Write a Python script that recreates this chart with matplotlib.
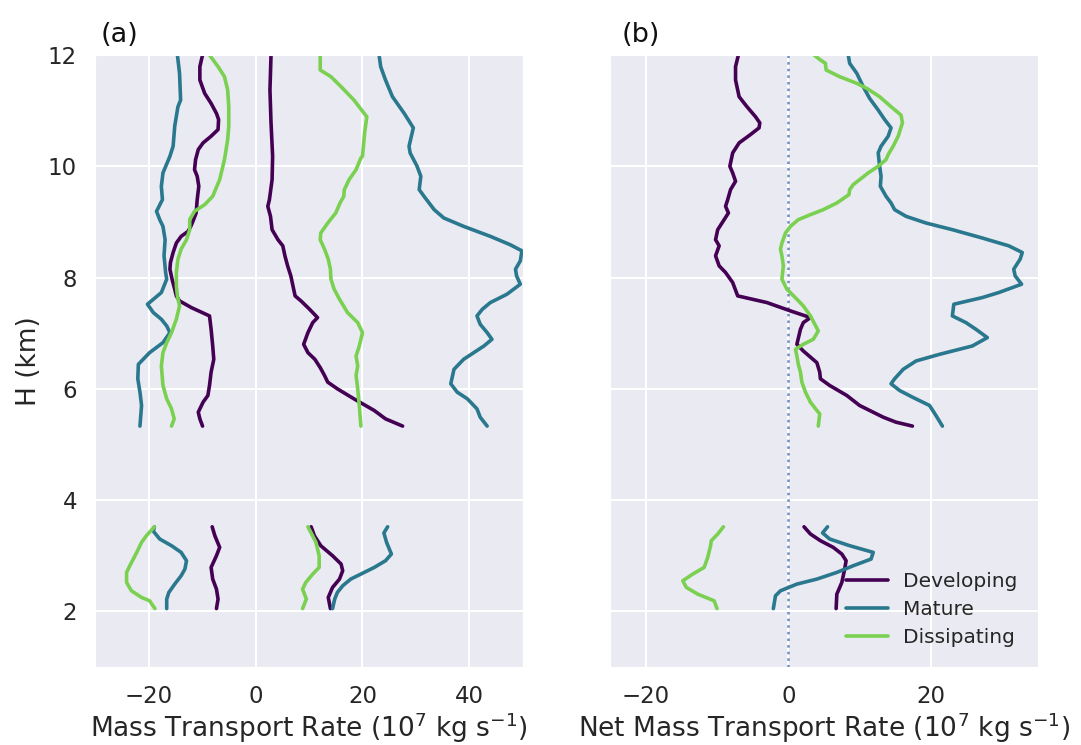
import numpy as np
import matplotlib
matplotlib.use('Agg')
import matplotlib.pyplot as plt
import seaborn as sns

nan = np.nan

# --------------------------
# Data: heights (km) and mass transport rates (1e7 kg/s)
# upper layer (5.3-12 km) and lower layer (2-3.5 km) split by nan
# --------------------------
# panel (a): downward (negative) and upward (positive) transport
mat_neg_h = [12.00, 11.67, 11.19, 11.07, 10.72, 10.36, 10.18, 9.88, 9.64, 9.40, 9.19, 9.04, 8.92, 8.68,
             8.39, 8.09, 7.97, 7.73, 7.52, 7.37, 7.25, 7.13, 7.01, 6.83, 6.65, 6.44, 6.18, 5.94, 5.70, 5.33,
             nan, 3.52, 3.44, 3.30, 3.18, 3.06, 2.91, 2.76, 2.64, 2.49, 2.34, 2.22, 2.05]
mat_neg = [-14.6, -14.2, -14.0, -14.5, -15.1, -15.4, -16.0, -17.3, -17.6, -17.4, -18.5, -17.9, -17.3, -16.9,
           -17.1, -16.8, -16.6, -17.6, -20.2, -19.1, -17.6, -16.6, -16.0, -17.3, -19.8, -21.9, -22.0, -21.6, -21.3, -21.6,
           nan, -18.9, -19.1, -17.9, -15.7, -13.9, -12.9, -13.2, -13.9, -15.1, -16.2, -16.6, -16.6]

dev_neg_h = [12.00, 11.79, 11.55, 11.31, 11.13, 10.95, 10.84, 10.66, 10.54, 10.42, 10.30, 10.12, 9.94, 9.82,
             9.64, 9.40, 9.16, 9.01, 8.92, 8.83, 8.74, 8.62, 8.45, 8.27, 8.15, 7.97, 7.79, 7.67, 7.58, 7.46,
             7.31, 7.07, 6.77, 6.53, 6.30, 6.06, 5.88, 5.76, 5.58, 5.46, 5.33,
             nan, 3.52, 3.36, 3.15, 3.00, 2.79, 2.58, 2.40, 2.22, 2.05]
dev_neg = [-9.9, -10.4, -10.4, -9.5, -8.3, -7.3, -6.9, -7.0, -8.3, -9.8, -10.7, -11.2, -11.4, -10.9,
           -10.6, -10.9, -11.1, -11.7, -12.1, -12.6, -13.9, -14.8, -15.4, -15.9, -16.0, -15.6, -15.1, -14.8, -14.2, -12.0,
           -8.6, -8.3, -8.0, -7.8, -8.3, -8.6, -8.9, -9.8, -10.7, -10.4, -9.9,
           nan, -8.1, -7.6, -6.7, -7.3, -8.3, -8.0, -7.3, -7.0, -7.3]

dis_neg_h = [12.00, 11.79, 11.61, 11.37, 11.07, 10.72, 10.48, 10.12, 9.76, 9.46, 9.31, 9.19, 9.04, 8.86,
             8.68, 8.51, 8.33, 8.09, 7.85, 7.67, 7.49, 7.25, 7.01, 6.83, 6.65, 6.41, 6.06, 5.82, 5.64, 5.46, 5.33,
             nan, 3.52, 3.36, 3.24, 3.06, 2.82, 2.70, 2.52, 2.37, 2.25, 2.19, 2.05]
dis_neg = [-8.6, -7.0, -5.8, -5.2, -5.0, -5.0, -5.2, -5.8, -6.7, -8.0, -9.5, -11.4, -12.3, -12.3,
           -12.9, -13.9, -14.5, -14.8, -14.8, -14.6, -14.2, -14.8, -15.7, -16.6, -17.3, -17.6, -17.3, -16.6, -15.7, -15.2, -15.7,
           nan, -18.9, -20.4, -21.3, -22.2, -23.5, -24.1, -24.1, -23.2, -21.3, -19.8, -18.8]

dev_pos_h = [12.00, 11.37, 10.78, 10.18, 9.76, 9.40, 9.28, 9.10, 8.86, 8.68, 8.57, 8.39, 8.21, 8.03,
             7.85, 7.67, 7.58, 7.43, 7.28, 7.19, 7.01, 6.80, 6.65, 6.53, 6.38, 6.24, 6.12, 6.00, 5.82, 5.61, 5.46, 5.33,
             nan, 3.52, 3.36, 3.18, 3.00, 2.85, 2.73, 2.58, 2.43, 2.25, 2.05]
dev_pos = [2.9, 2.7, 2.9, 3.2, 3.1, 2.6, 2.3, 2.8, 3.1, 4.2, 5.1, 5.5, 6.0, 6.6,
           7.0, 7.4, 8.5, 10.1, 11.6, 10.7, 9.8, 9.0, 9.8, 11.1, 12.1, 12.9, 13.5, 15.3, 18.4, 22.2, 24.3, 27.5,
           nan, 10.4, 11.0, 12.2, 14.4, 16.0, 16.3, 15.7, 14.4, 13.6, 14.0]

dis_pos_h = [12.00, 11.73, 11.61, 11.43, 11.19, 10.89, 10.60, 10.18, 10.15, 9.94, 9.76, 9.58, 9.46, 9.34,
             9.16, 8.98, 8.80, 8.68, 8.51, 8.33, 8.15, 7.97, 7.79, 7.61, 7.37, 7.19, 7.01, 6.77, 6.59, 6.41,
             6.24, 6.00, 5.70, 5.33,
             nan, 3.52, 3.41, 3.24, 3.00, 2.79, 2.67, 2.52, 2.40, 2.22, 2.05]
dis_pos = [12.1, 12.1, 14.1, 16.0, 18.4, 20.8, 20.4, 20.0, 19.7, 18.8, 17.5, 16.6, 16.5, 15.8,
           15.0, 13.5, 12.2, 12.1, 12.9, 13.6, 14.0, 14.1, 14.7, 15.7, 17.2, 19.1, 20.0, 19.4, 18.8, 19.1,
           18.8, 19.1, 19.4, 19.7,
           nan, 9.8, 10.4, 11.3, 11.9, 11.9, 10.7, 9.4, 8.8, 9.5, 8.8]

mat_pos_h = [12.00, 11.79, 11.55, 11.25, 10.95, 10.69, 10.36, 10.24, 10.00, 9.82, 9.58, 9.46, 9.22, 9.07,
             8.92, 8.74, 8.59, 8.48, 8.30, 8.15, 8.03, 7.88, 7.70, 7.55, 7.43, 7.31, 7.16, 7.01, 6.89, 6.77,
             6.53, 6.35, 6.09, 5.94, 5.82, 5.64, 5.49, 5.33,
             nan, 3.52, 3.41, 3.24, 3.03, 2.91, 2.79, 2.67, 2.58, 2.46, 2.34, 2.22, 2.05]
mat_pos = [23.1, 23.4, 24.3, 25.6, 27.8, 29.5, 28.7, 28.9, 30.2, 30.9, 30.6, 31.5, 33.4, 35.2,
           38.9, 43.9, 47.6, 49.8, 49.5, 48.6, 48.8, 49.5, 47.0, 43.9, 42.4, 41.4, 42.0, 43.3, 44.2, 42.7,
           38.9, 37.1, 36.5, 37.7, 39.6, 41.4, 42.0, 43.3,
           nan, 24.7, 24.0, 24.5, 25.4, 24.3, 22.2, 19.7, 17.8, 16.3, 15.3, 14.8, 14.4]

# panel (b): net transport
dev_net_h = [12.00, 11.79, 11.55, 11.25, 11.07, 10.89, 10.78, 10.69, 10.57, 10.42, 10.24, 10.00, 9.88, 9.73,
             9.58, 9.40, 9.28, 9.16, 9.04, 8.86, 8.68, 8.57, 8.39, 8.21, 8.09, 7.91, 7.67, 7.55, 7.40, 7.28,
             7.19, 7.07, 6.80, 6.68, 6.47, 6.30, 6.18, 6.06, 5.88, 5.70, 5.49, 5.40, 5.33,
             nan, 3.52, 3.39, 3.27, 3.15, 3.03, 2.91, 2.76, 2.52, 2.31, 2.05]
dev_net = [-7.0, -7.4, -7.4, -6.9, -5.8, -4.6, -4.0, -4.1, -5.3, -6.9, -7.8, -8.2, -7.8, -7.4,
           -8.1, -8.5, -8.8, -8.4, -9.0, -9.9, -10.2, -9.7, -10.2, -9.7, -8.8, -7.8, -7.1, -3.0, 0.3, 3.1,
           2.1, 1.7, 1.2, 2.1, 4.0, 4.4, 4.5, 5.8, 8.2, 10.0, 13.3, 15.1, 17.4,
           nan, 2.2, 3.1, 4.5, 6.3, 7.5, 8.1, 7.9, 7.5, 6.8, 6.7]

mat_net_h = [12.00, 11.85, 11.67, 11.43, 11.22, 11.01, 10.84, 10.69, 10.54, 10.36, 10.24, 10.00, 9.82, 9.64,
             9.46, 9.34, 9.22, 9.10, 8.98, 8.86, 8.71, 8.57, 8.45, 8.33, 8.15, 8.03, 7.88, 7.73, 7.64, 7.52,
             7.31, 7.19, 7.07, 6.92, 6.77, 6.62, 6.50, 6.35, 6.18, 6.09, 5.97, 5.85, 5.70, 5.52, 5.33,
             nan, 3.52, 3.41, 3.30, 3.18, 3.06, 2.94, 2.82, 2.70, 2.58, 2.49, 2.37, 2.28, 2.05]
mat_net = [8.4, 8.6, 9.6, 10.5, 11.4, 12.6, 13.5, 14.4, 14.0, 13.0, 12.6, 12.8, 13.0, 12.9,
           13.7, 14.4, 14.9, 16.5, 19.3, 23.0, 27.2, 30.9, 32.8, 32.5, 31.6, 31.8, 32.7, 29.5, 27.2, 23.2,
           23.0, 24.9, 26.3, 27.9, 25.8, 21.2, 17.9, 16.1, 14.9, 14.4, 15.6, 17.4, 19.8, 20.7, 21.6,
           nan, 5.5, 4.8, 5.8, 8.6, 11.9, 11.6, 9.1, 6.8, 4.0, 1.2, -1.1, -1.8, -2.1]

dis_net_h = [12.00, 11.91, 11.85, 11.73, 11.61, 11.49, 11.40, 11.25, 11.07, 10.92, 10.78, 10.54, 10.36, 10.21,
             10.12, 10.00, 9.88, 9.76, 9.67, 9.58, 9.49, 9.34, 9.22, 9.13, 9.04, 8.92, 8.80, 8.62, 8.51, 8.39,
             8.21, 7.97, 7.79, 7.61, 7.49, 7.31, 7.04, 6.89, 6.80, 6.71, 6.59, 6.44, 6.30, 6.12, 5.94,
             5.76, 5.61, 5.55, 5.33,
             nan, 3.52, 3.39, 3.27, 3.18, 2.97, 2.79, 2.67, 2.55, 2.43, 2.31, 2.19, 2.05]
dis_net = [3.6, 4.5, 5.2, 5.3, 7.2, 9.6, 11.0, 12.8, 14.4, 15.8, 16.0, 15.4, 14.7, 14.0,
           13.7, 12.6, 11.2, 10.0, 9.1, 8.6, 8.5, 6.8, 4.9, 3.1, 1.4, 0.3, -0.4, -0.9, -1.1, -0.9,
           -0.7, -0.9, -0.2, 1.2, 2.1, 3.1, 4.2, 3.5, 2.1, 1.0, 1.2, 1.4, 1.7, 1.9, 2.4,
           3.1, 4.0, 4.4, 4.2,
           nan, -9.1, -9.9, -10.8, -10.9, -11.3, -11.8, -13.4, -14.8, -14.3, -12.7, -10.4, -10.0]

stages = ['Developing', 'Mature', 'Dissipating']
colors = ['#440154', '#2a788e', '#7ad151']

# --------------------------
# Plot
# --------------------------
sns.set_style('darkgrid')
plt.rcParams['font.family'] = ['DejaVu Sans']
plt.rcParams['grid.linewidth'] = 1.5

fig = plt.figure(figsize=(10.81, 7.45), dpi=100)
ax1 = fig.add_axes([0.0879, 0.1047, 0.3959, 0.8215])
ax2 = fig.add_axes([0.5643, 0.1047, 0.3959, 0.8215])

lw = 2.6
for neg_h, neg, pos_h, pos, c in [(dev_neg_h, dev_neg, dev_pos_h, dev_pos, colors[0]),
                                  (mat_neg_h, mat_neg, mat_pos_h, mat_pos, colors[1]),
                                  (dis_neg_h, dis_neg, dis_pos_h, dis_pos, colors[2])]:
    ax1.plot(neg, neg_h, color=c, lw=lw)
    ax1.plot(pos, pos_h, color=c, lw=lw)

ax2.axvline(0, color='#6f8cc0', ls=':', lw=1.8)
for h, v, c, name in [(dev_net_h, dev_net, colors[0], stages[0]),
                      (mat_net_h, mat_net, colors[1], stages[1]),
                      (dis_net_h, dis_net, colors[2], stages[2])]:
    ax2.plot(v, h, color=c, lw=lw, label=name)

for ax in (ax1, ax2):
    ax.set_ylim(1, 12)
    ax.set_yticks([2, 4, 6, 8, 10, 12])
    ax.tick_params(labelsize=16.5, colors='#262626', pad=9.5)
ax1.set_xlim(-30, 50)
ax1.set_xticks([-20, 0, 20, 40])
ax2.set_xlim(-25, 35)
ax2.set_xticks([-20, 0, 20])
ax2.set_yticklabels([])

ax1.set_ylabel('H (km)', fontsize=19, color='#262626', labelpad=4)
ax1.set_xlabel('Mass Transport Rate ($10^7$ kg s$^{-1}$)', fontsize=19, color='#262626', labelpad=2)
ax2.set_xlabel('Net Mass Transport Rate ($10^7$ kg s$^{-1}$)', fontsize=19, color='#262626', labelpad=2)

fig.text(101 / 1081, 1 - 41.5 / 745, '(a)', fontsize=19.5, va='baseline', ha='left', color='#111111')
fig.text(622 / 1081, 1 - 41.5 / 745, '(b)', fontsize=19.5, va='baseline', ha='left', color='#111111')

ax2.legend(loc='lower right', frameon=False, fontsize=14.5, handlelength=2.1,
           handletextpad=0.75, borderaxespad=0.6, labelspacing=0.45)

plt.savefig('out.png', dpi=100)
